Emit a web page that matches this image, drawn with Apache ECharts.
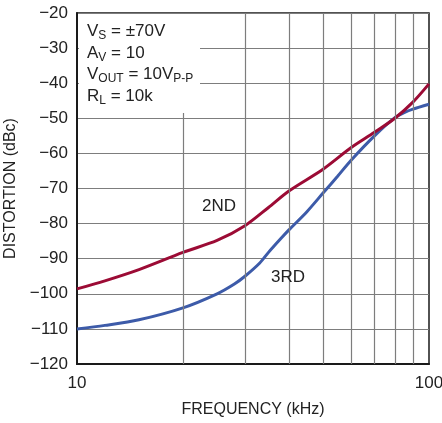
<!DOCTYPE html>
<html>
<head>
<meta charset="utf-8">
<script src="https://cdn.jsdelivr.net/npm/echarts@6/dist/echarts.min.js"></script>
<style>
  html, body { margin: 0; padding: 0; background: #fff; }
  #chart { width: 442px; height: 423px; }
</style>
</head>
<body>
<div id="chart"></div>
<script>
// 数据
const secondFreq = [10, 12, 15, 20, 25, 30, 35, 40, 50, 60, 70, 80, 90, 100]
const secondDb = [-98.6, -96.3, -93.1, -88.2, -84.8, -80.6, -75.4, -70.7, -64.5, -58.4, -54.0, -50.0, -45.4, -40.2]
const thirdFreq = [10, 12, 15, 20, 25, 28, 30, 33, 35, 38, 40, 45, 50, 55, 60, 70, 80, 85, 90, 100]
const thirdDb = [-110.0, -109.0, -107.4, -104.0, -100.0, -97.2, -95.0, -91.3, -88.2, -84.2, -81.8, -76.6, -71.3, -66.5, -62.0, -55.0, -49.8, -48.4, -47.4, -46.0]
const minorGridFreq = [20, 30, 40, 50, 60, 70, 80, 90]
const xTickLabels = [10, 100]

const font = "'Liberation Sans Narrow', 'Liberation Sans', Arial, sans-serif"
const red = '#9c0b35'
const blue = '#3d5ba9'

const chart = echarts.init(document.getElementById('chart'))
chart.setOption({
  animation: false,
  textStyle: {fontFamily: font},
  grid: {
    left: 77, right: 13, top: 13, bottom: 59,
    outerBoundsMode: 'none',
    containLabel: false,
    show: true,
    borderColor: '#1a1a1a',
    borderWidth: 1.5
  },
  xAxis: {
    type: 'log',
    logBase: 10,
    min: 10,
    max: 100,
    name: 'FREQUENCY (kHz)',
    nameLocation: 'middle',
    nameGap: 38,
    nameTextStyle: {fontFamily: font, fontSize: 16, color: '#222'},
    axisLine: {show: true, lineStyle: {color: '#1a1a1a', width: 2}},
    axisTick: {show: false},
    splitLine: {show: false},
    axisLabel: {
      margin: 11,
      fontFamily: font,
      fontSize: 17,
      color: '#222',
      formatter: v => xTickLabels.includes(Math.round(v)) ? String(Math.round(v)) : ''
    }
  },
  yAxis: {
    type: 'value',
    min: -120,
    max: -20,
    interval: 10,
    name: 'DISTORTION (dBc)',
    nameLocation: 'middle',
    nameGap: 50,
    nameRotate: 90,
    nameTextStyle: {fontFamily: font, fontSize: 16, color: '#222'},
    axisLine: {show: true, lineStyle: {color: '#1a1a1a', width: 2}},
    axisTick: {show: false},
    splitLine: {show: true, lineStyle: {color: '#7d7d7d', width: 1.2}},
    axisLabel: {
      margin: 9,
      fontFamily: font,
      fontSize: 17,
      color: '#222',
      formatter: v => String(v).replace('-', '\u2212')
    }
  },
  series: [
    {
      name: 'grid',
      type: 'line',
      data: [],
      silent: true,
      markLine: {
        silent: true,
        symbol: 'none',
        label: {show: false},
        lineStyle: {color: '#7d7d7d', width: 1.2, type: 'solid'},
        data: minorGridFreq.map(f => ({xAxis: f}))
      }
    },
    {
      name: '2ND',
      type: 'line',
      smooth: 0.3,
      showSymbol: false,
      lineStyle: {color: red, width: 3},
      data: secondFreq.map((f, i) => [f, secondDb[i]]),
      z: 4
    },
    {
      name: '3RD',
      type: 'line',
      smooth: 0.3,
      showSymbol: false,
      lineStyle: {color: blue, width: 3},
      data: thirdFreq.map((f, i) => [f, thirdDb[i]]),
      z: 3
    }
  ],
  graphic: [
    {
      type: 'rect',
      left: 79, top: 14,
      shape: {width: 121, height: 99},
      style: {fill: '#fff'},
      z: 10
    },
    {
      type: 'text',
      left: 87, top: 21,
      z: 11,
      style: {
        text: '{n|V}{s|S}{n| = ±70V}\n{n|A}{s|V}{n| = 10}\n{n|V}{s|OUT}{n| = 10V}{s|P-P}\n{n|R}{s|L}{n| = 10k}',
        fill: '#222',
        fontFamily: font,
        rich: {
          n: {fontSize: 17, lineHeight: 21.5, fontFamily: font, fill: '#222'},
          s: {fontSize: 12, lineHeight: 21.5, fontFamily: font, fill: '#222', padding: [9, 0, 0, 0]}
        }
      }
    },
    {
      type: 'text',
      left: 202, top: 198,
      z: 11,
      style: {text: '2ND', fontSize: 17, fontFamily: font, fill: '#222'}
    },
    {
      type: 'text',
      left: 271, top: 269,
      z: 11,
      style: {text: '3RD', fontSize: 17, fontFamily: font, fill: '#222'}
    }
  ]
})
</script>
</body>
</html>
